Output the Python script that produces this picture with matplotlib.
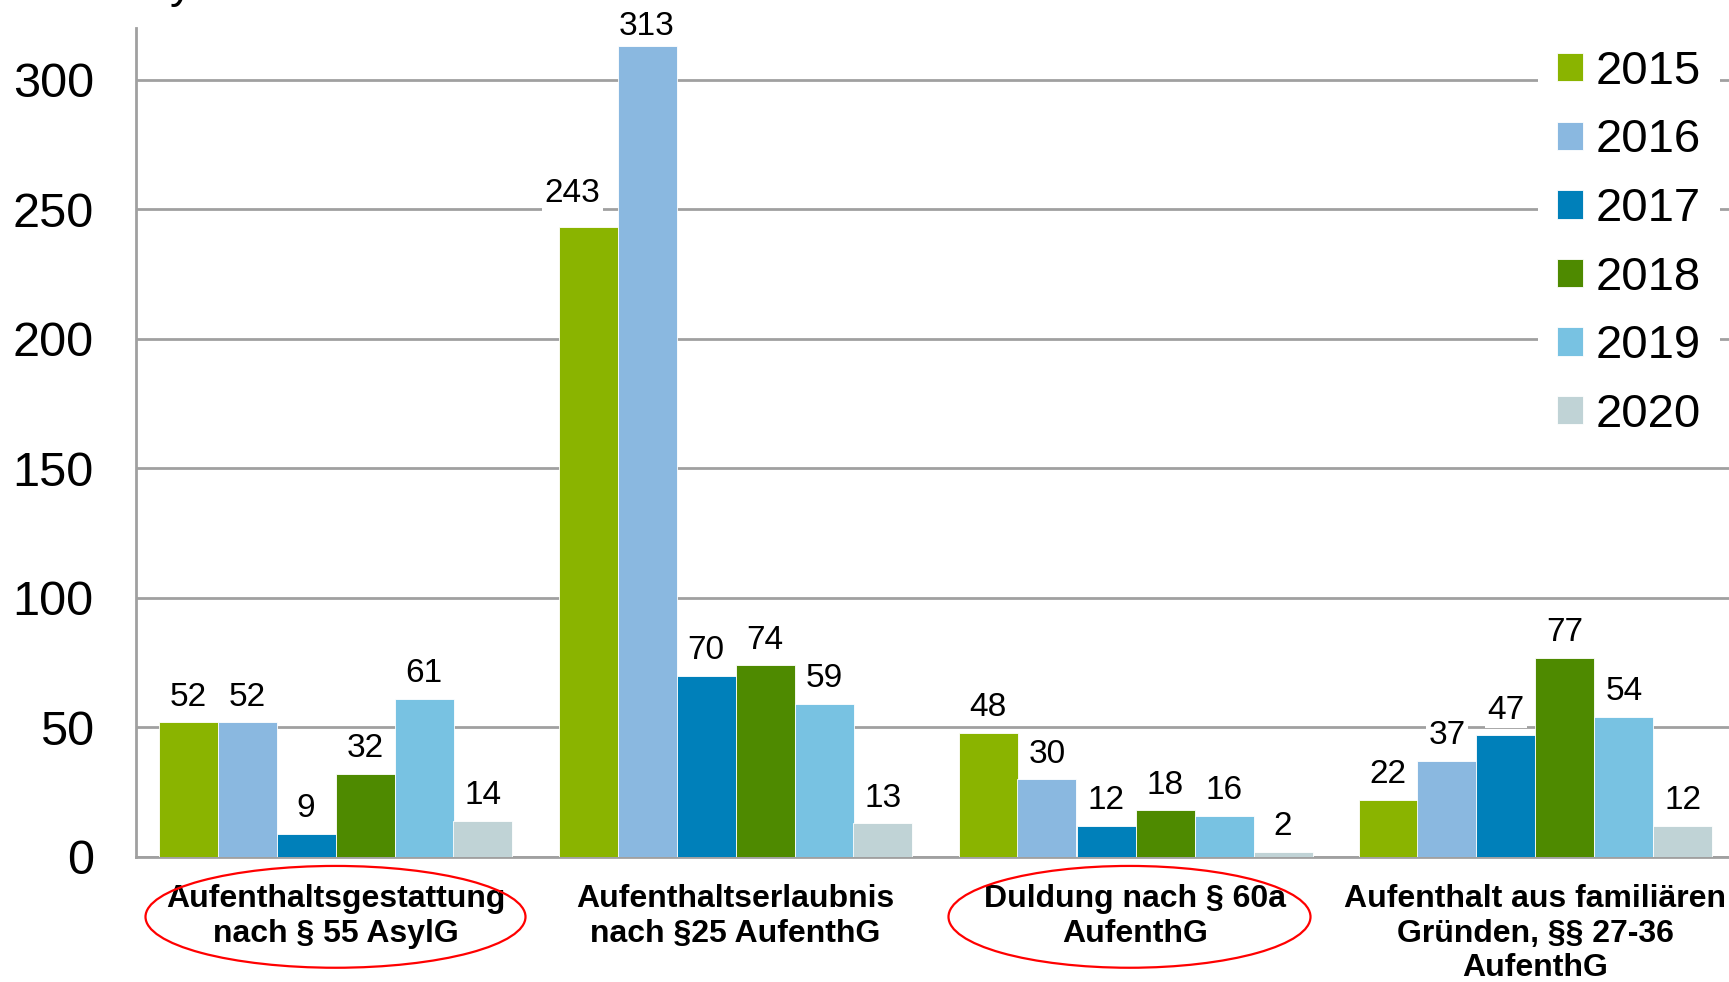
import matplotlib
matplotlib.use("Agg")
import matplotlib.pyplot as plt
from matplotlib.patches import Ellipse
import numpy as np

plt.rcParams['font.family'] = ['Liberation Sans', 'DejaVu Sans']

# Daten
kategorien = [
    "Aufenthaltsgestattung\nnach § 55 AsylG",
    "Aufenthaltserlaubnis\nnach §25 AufenthG",
    "Duldung nach § 60a\nAufenthG",
    "Aufenthalt aus familiären\nGründen, §§ 27-36\nAufenthG",
]
jahre = ["2015", "2016", "2017", "2018", "2019", "2020"]
w2015 = [52, 243, 48, 22]
w2016 = [52, 313, 30, 37]
w2017 = [9, 70, 12, 47]
w2018 = [32, 74, 18, 77]
w2019 = [61, 59, 16, 54]
w2020 = [14, 13, 2, 12]
werte = [w2015, w2016, w2017, w2018, w2019, w2020]
farben = ["#8AB400", "#8AB8E0", "#0080BA", "#4E8A00", "#78C2E2", "#C0D3D6"]
# rot eingekreiste Kategorien: (index, breite)
markiert = [(0, 0.95), (2, 0.905)]
# Sonderabstände der Werte-Labels (jahr-index, kategorie) -> (dx, dy) punkte
label_offset = {(0, 1): (-11, 13), (1, 1): (0, 3)}

W, H = 1729, 982
fig = plt.figure(figsize=(W / 100, H / 100), dpi=100)
ax = fig.add_axes([135.5 / W, (H - 857) / H, 1600 / W, (857 - 28) / H])

x = np.arange(len(kategorien))
bw = 0.885 / 6
for i, (jahr, vals, c) in enumerate(zip(jahre, werte, farben)):
    pos = x - 0.885 / 2 + bw * (i + 0.5)
    ax.bar(pos, vals, width=bw, color=c, label=jahr, zorder=3,
           edgecolor="white", linewidth=0.6)
    for k, (p, v) in enumerate(zip(pos, vals)):
        off = label_offset.get((i, k), (0, 7))
        ax.annotate(str(v), (p, v), xytext=off, textcoords="offset points",
                    ha="center", va="bottom", fontsize=24, zorder=5,
                    bbox=dict(facecolor="white", edgecolor="none", pad=2))

ax.set_xlim(-0.5, 3.5)
ax.set_ylim(0, 320)
ax.set_yticks([0, 50, 100, 150, 200, 250, 300])
ax.yaxis.grid(True, color="#A0A0A0", linewidth=2, zorder=0)
ax.set_axisbelow(True)
ax.tick_params(axis="y", length=0, labelsize=35, pad=30)
ax.tick_params(axis="x", length=0)
ax.set_xticks([])
for s in ["top", "right"]:
    ax.spines[s].set_visible(False)
for s in ["left", "bottom"]:
    ax.spines[s].set_color("#A0A0A0")
    ax.spines[s].set_linewidth(2)

# Kategorienbeschriftung
for xi, lab in zip(x, kategorien):
    ax.text(xi, -10.5, lab, ha="center", va="top", fontsize=23,
            fontweight="bold", linespacing=1.2, clip_on=False)

# rote Ellipsen
for xi, bwid in markiert:
    ax.add_patch(Ellipse((xi - 0.015 * (xi > 0), -23.1), bwid, 39.3,
                         fill=False, edgecolor="red", linewidth=1.6,
                         clip_on=False, zorder=6))

leg = fig.legend(loc="upper left", bbox_to_anchor=(1538 / W, 1 - 31 / H),
                 fontsize=34, frameon=True, handlelength=0.55,
                 handleheight=0.55, handletextpad=0.28, labelspacing=0.52,
                 borderaxespad=0, borderpad=0.4)
leg.get_frame().set_facecolor("white")
leg.get_frame().set_edgecolor("none")
leg.get_frame().set_alpha(1)
leg.set_zorder(10)

# abgeschnittener Titel oben
fig.text(170 / W, 1 + 3 / H, "y", fontsize=33, ha="left", va="baseline")

fig.savefig("out.png", dpi=100)
